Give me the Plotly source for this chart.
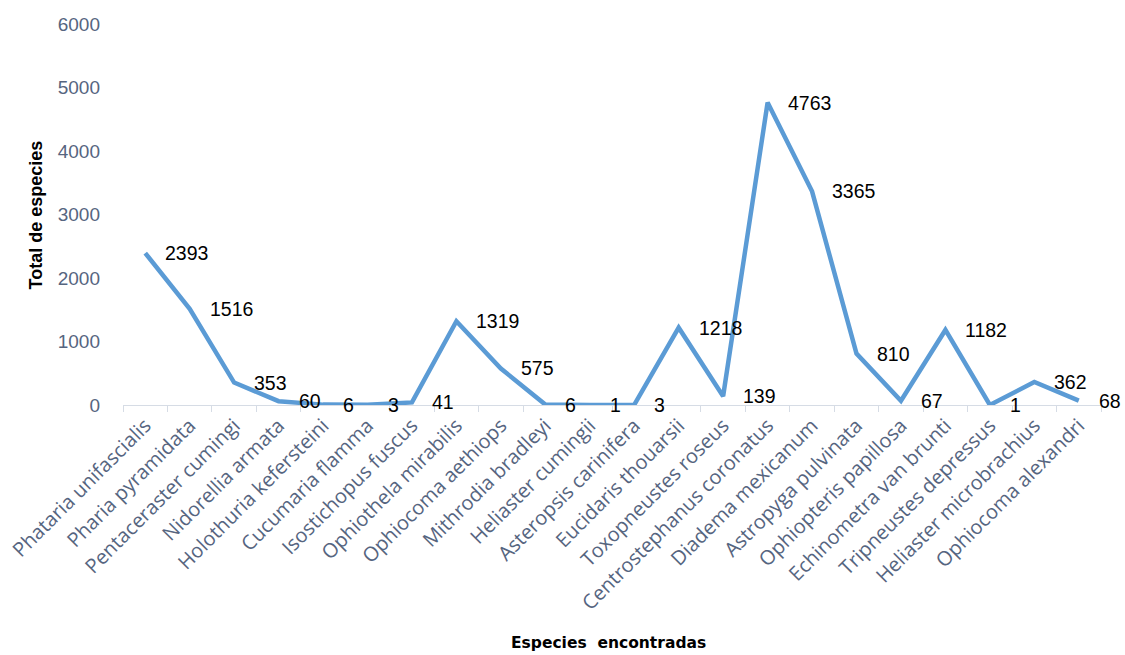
import plotly.graph_objects as go

# Especies registradas y número total de individuos por especie
especies = [
    "Phataria unifascialis", "Pharia pyramidata", "Pentaceraster cumingi",
    "Nidorellia armata", "Holothuria kefersteini", "Cucumaria flamma",
    "Isostichopus fuscus", "Ophiothela mirabilis", "Ophiocoma aethiops",
    "Mithrodia bradleyi", "Heliaster cumingii", "Asteropsis carinifera",
    "Eucidaris thouarsii", "Toxopneustes roseus", "Centrostephanus coronatus",
    "Diadema mexicanum", "Astropyga pulvinata", "Ophiopteris papillosa",
    "Echinometra van brunti", "Tripneustes depressus", "Heliaster microbrachius",
    "Ophiocoma alexandri",
]
totales = [2393, 1516, 353, 60, 6, 3, 41, 1319, 575, 6, 1, 3,
           1218, 139, 4763, 3365, 810, 67, 1182, 1, 362, 68]
y_ticks = [0, 1000, 2000, 3000, 4000, 5000, 6000]

LINE_BLUE = "#5B9BD5"
TICK_COLOR = "#56657f"
AXIS_GREY = "#d6dce5"

fig = go.Figure()
fig.add_trace(go.Scatter(
    x=especies, y=totales, mode="lines",
    line=dict(color=LINE_BLUE, width=4.5),
    hoverinfo="x+y", showlegend=False,
))

# Etiquetas de valor a la derecha de cada punto
annotations = [
    dict(x=e, y=v, xref="x", yref="y", text=str(v), showarrow=False,
         xanchor="left", yanchor="middle", xshift=18,
         font=dict(family="Liberation Sans, Arial, sans-serif", size=19.5, color="#000000"))
    for e, v in zip(especies, totales)
]
annotations.append(dict(
    text="Total de especies", xref="paper", yref="paper", x=-0.089, y=0.5,
    textangle=-90, showarrow=False, xanchor="center", yanchor="middle",
    font=dict(family="Liberation Sans, Arial, sans-serif", size=18, color="#000000", weight="bold"),
))
annotations.append(dict(
    text="Especies&nbsp;&nbsp;encontradas", xref="paper", yref="paper", x=0.496, y=-0.625,
    showarrow=False, xanchor="center", yanchor="middle",
    font=dict(family="DejaVu Sans, sans-serif", size=15.5, color="#000000", weight="bold"),
))

fig.update_layout(
    width=1125, height=655,
    margin=dict(l=123, r=24, t=24, b=250, autoexpand=False),
    plot_bgcolor="#ffffff", paper_bgcolor="#ffffff",
    annotations=annotations,
    xaxis=dict(
        type="category", range=[-0.5, len(especies) - 0.5],
        automargin=False,
        showgrid=False, zeroline=False,
        showline=True, linecolor=AXIS_GREY, linewidth=1,
        ticks="outside", tickson="boundaries", ticklen=6, tickcolor=AXIS_GREY,
        tickangle=-45,
        tickfont=dict(family="Open Sans, sans-serif", size=20, color=TICK_COLOR),
    ),
    yaxis=dict(
        range=[0, 6000], tickvals=y_ticks, ticktext=[str(t) for t in y_ticks],
        automargin=False,
        showgrid=False, zeroline=False, showline=False,
        ticks="", ticklabelstandoff=22,
        tickfont=dict(family="Liberation Sans, Arial, sans-serif", size=19, color=TICK_COLOR),
    ),
)

fig.write_html("out.html")
